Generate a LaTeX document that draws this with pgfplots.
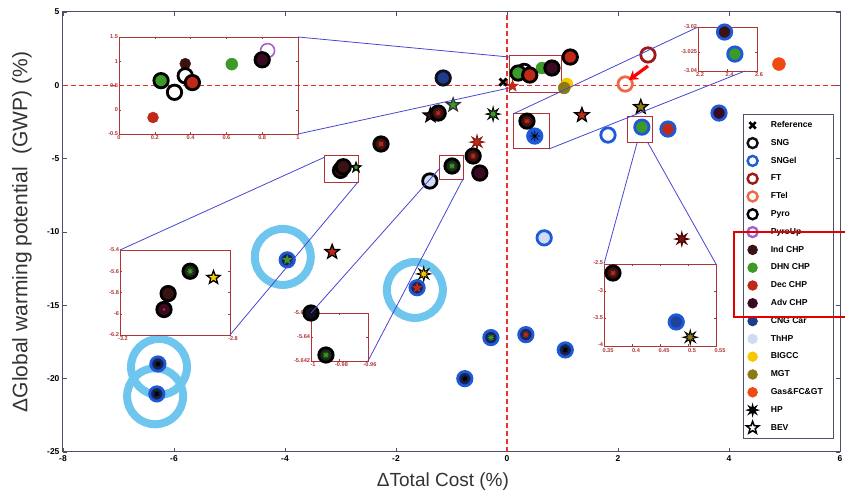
\documentclass[border=0pt]{standalone}
\usepackage{fontspec}
\setmainfont{Liberation Sans}
\usepackage{pgfplots}
\pgfplotsset{compat=1.18}
\usetikzlibrary{arrows.meta}

\definecolor{sngc}{HTML}{10101C}
\definecolor{sngelc}{HTML}{1E5AD8}
\definecolor{ftc}{HTML}{A01818}
\definecolor{ftelc}{HTML}{F06848}
\definecolor{pyroupc}{HTML}{A860C8}
\definecolor{indc}{HTML}{3A1212}
\definecolor{dhnc}{HTML}{3C9A28}
\definecolor{decc}{HTML}{C02818}
\definecolor{advc}{HTML}{3A0A22}
\definecolor{cngc}{HTML}{1F3C8C}
\definecolor{thhpc}{HTML}{D0DCF4}
\definecolor{bigccc}{HTML}{F5C800}
\definecolor{mgtc}{HTML}{8C7A14}
\definecolor{gasc}{HTML}{F04A14}
\definecolor{hlc}{HTML}{6EC6EE}
\definecolor{zredc}{HTML}{B03434}
\definecolor{lnc}{HTML}{4646D2}
\definecolor{axc}{HTML}{4A5268}
\definecolor{refc}{HTML}{E83030}
\definecolor{dgc}{HTML}{1A2A18}
\definecolor{navyf}{HTML}{1A2450}

\pgfdeclareplotmark{fstar}{%
  \pgfpathmoveto{\pgfpointpolar{90}{\pgfplotmarksize}}%
  \pgfpathlineto{\pgfpointpolar{126}{0.42*\pgfplotmarksize}}%
  \pgfpathlineto{\pgfpointpolar{162}{\pgfplotmarksize}}%
  \pgfpathlineto{\pgfpointpolar{198}{0.42*\pgfplotmarksize}}%
  \pgfpathlineto{\pgfpointpolar{234}{\pgfplotmarksize}}%
  \pgfpathlineto{\pgfpointpolar{270}{0.42*\pgfplotmarksize}}%
  \pgfpathlineto{\pgfpointpolar{306}{\pgfplotmarksize}}%
  \pgfpathlineto{\pgfpointpolar{342}{0.42*\pgfplotmarksize}}%
  \pgfpathlineto{\pgfpointpolar{18}{\pgfplotmarksize}}%
  \pgfpathlineto{\pgfpointpolar{54}{0.42*\pgfplotmarksize}}%
  \pgfpathclose
  \pgfusepathqfillstroke
}
\pgfdeclareplotmark{sp8}{%
  \pgfpathmoveto{\pgfpointpolar{0}{\pgfplotmarksize}}%
  \pgfpathlineto{\pgfpointpolar{22.5}{0.4*\pgfplotmarksize}}%
  \pgfpathlineto{\pgfpointpolar{45}{\pgfplotmarksize}}%
  \pgfpathlineto{\pgfpointpolar{67.5}{0.4*\pgfplotmarksize}}%
  \pgfpathlineto{\pgfpointpolar{90}{\pgfplotmarksize}}%
  \pgfpathlineto{\pgfpointpolar{112.5}{0.4*\pgfplotmarksize}}%
  \pgfpathlineto{\pgfpointpolar{135}{\pgfplotmarksize}}%
  \pgfpathlineto{\pgfpointpolar{157.5}{0.4*\pgfplotmarksize}}%
  \pgfpathlineto{\pgfpointpolar{180}{\pgfplotmarksize}}%
  \pgfpathlineto{\pgfpointpolar{202.5}{0.4*\pgfplotmarksize}}%
  \pgfpathlineto{\pgfpointpolar{225}{\pgfplotmarksize}}%
  \pgfpathlineto{\pgfpointpolar{247.5}{0.4*\pgfplotmarksize}}%
  \pgfpathlineto{\pgfpointpolar{270}{\pgfplotmarksize}}%
  \pgfpathlineto{\pgfpointpolar{292.5}{0.4*\pgfplotmarksize}}%
  \pgfpathlineto{\pgfpointpolar{315}{\pgfplotmarksize}}%
  \pgfpathlineto{\pgfpointpolar{337.5}{0.4*\pgfplotmarksize}}%
  \pgfpathclose
  \pgfusepathqfillstroke
}
\pgfdeclareplotmark{ast8}{%
  \pgfpathmoveto{\pgfpointpolar{0}{\pgfplotmarksize}}\pgfpathlineto{\pgfpointpolar{180}{\pgfplotmarksize}}%
  \pgfpathmoveto{\pgfpointpolar{90}{\pgfplotmarksize}}\pgfpathlineto{\pgfpointpolar{270}{\pgfplotmarksize}}%
  \pgfpathmoveto{\pgfpointpolar{45}{\pgfplotmarksize}}\pgfpathlineto{\pgfpointpolar{225}{\pgfplotmarksize}}%
  \pgfpathmoveto{\pgfpointpolar{135}{\pgfplotmarksize}}\pgfpathlineto{\pgfpointpolar{315}{\pgfplotmarksize}}%
  \pgfusepathqstroke
}

\pgfplotsset{
  rf/.style n args={2}{only marks, forget plot, mark=*, mark size=7.2pt, mark options={draw=#1, fill=#2, line width=2.8pt, solid}},
  ro/.style={only marks, forget plot, mark=o, mark size=7.2pt, mark options={draw=#1, line width=2.8pt, solid}},
  dt/.style n args={2}{only marks, forget plot, mark=*, mark size=#2, mark options={draw=#1, fill=#1, solid}},
  st/.style n args={2}{only marks, forget plot, mark=fstar, mark size=7.5pt, mark options={draw=#1, fill=#2, line width=1.3pt, solid}},
  hp/.style n args={2}{only marks, forget plot, mark=sp8, mark size=7pt, mark options={draw=#1, fill=#2, line width=0.9pt, solid}},
  cd/.style={only marks, forget plot, mark=ast8, mark size=3.2pt, mark options={draw=#1, line width=0.8pt, solid}},
  inset/.style={scale only axis, anchor=south west, clip=false,
    axis line style={draw=zredc, line width=0.9pt},
    every tick/.style={draw=zredc, line width=0.4pt},
    tick align=inside, major tick length=2pt,
    /pgf/number format/assume math mode=true,
    ticklabel style={font=\fontsize{5.6}{6}\selectfont\bfseries, text=zredc, inner sep=0.8pt},
    xticklabel style={yshift=-0.5pt}},
}
\newcommand\lgx[1]{\makebox[68pt][l]{\hspace{10pt}#1}}

\begin{document}
\begin{tikzpicture}
\useasboundingbox (-63pt,-45pt) rectangle (782pt,452pt);
\begin{axis}[
  at={(0pt,0pt)}, anchor=south west,
  scale only axis, width=777pt, height=440pt,
  xmin=-8, xmax=6, ymin=-25, ymax=5,
  xtick={-8,-6,-4,-2,0,2,4,6}, ytick={-25,-20,-15,-10,-5,0,5},
  tick align=inside, major tick length=4pt,
  axis line style={draw=axc, line width=1pt},
  every tick/.style={draw=axc, line width=0.8pt},
  /pgf/number format/assume math mode=true,
  ticklabel style={font=\fontsize{8.5}{9}\selectfont\bfseries},
  xlabel={ΔTotal Cost (\%)},
  ylabel={ΔGlobal warming potential\hspace{0.6em}(GWP) (\%)},
  xlabel style={at={(axis description cs:0.489,-0.068)}, anchor=center, font=\fontsize{19}{21}\selectfont, text=black!80},
  ylabel style={at={(axis description cs:-0.053,0.5)}, anchor=center, font=\fontsize{21}{23}\selectfont, text=black!80},
  clip=false,
  legend cell align=left,
  legend style={at={(axis description cs:0.8752,0.7682)}, anchor=north west, draw=axc, line width=0.8pt, fill=white,
    font=\fontsize{8.6}{9}\selectfont\bfseries, inner xsep=3pt, inner ysep=2pt,
    nodes={inner sep=2pt, minimum height=17.8pt}, row sep=0pt},
]
% legend
\addlegendimage{only marks, mark=x, mark size=4.5pt, mark options={line width=2.6pt, draw=black}}
\addlegendentry{\lgx{Reference}}
\addlegendimage{only marks, mark=o, mark size=5pt, mark options={line width=2.4pt, draw=sngc}}
\addlegendentry{\lgx{SNG}}
\addlegendimage{only marks, mark=o, mark size=5pt, mark options={line width=2.4pt, draw=sngelc}}
\addlegendentry{\lgx{SNGel}}
\addlegendimage{only marks, mark=o, mark size=5pt, mark options={line width=2.4pt, draw=ftc}}
\addlegendentry{\lgx{FT}}
\addlegendimage{only marks, mark=o, mark size=5pt, mark options={line width=2.4pt, draw=ftelc}}
\addlegendentry{\lgx{FTel}}
\addlegendimage{only marks, mark=o, mark size=5pt, mark options={line width=2.4pt, draw=black}}
\addlegendentry{\lgx{Pyro}}
\addlegendimage{only marks, mark=o, mark size=5pt, mark options={line width=2.4pt, draw=pyroupc}}
\addlegendentry{\lgx{PyroUp}}
\addlegendimage{only marks, mark=*, mark size=4.8pt, mark options={draw=indc, fill=indc}}
\addlegendentry{\lgx{Ind CHP}}
\addlegendimage{only marks, mark=*, mark size=4.8pt, mark options={draw=dhnc, fill=dhnc}}
\addlegendentry{\lgx{DHN CHP}}
\addlegendimage{only marks, mark=*, mark size=4.8pt, mark options={draw=decc, fill=decc}}
\addlegendentry{\lgx{Dec CHP}}
\addlegendimage{only marks, mark=*, mark size=4.8pt, mark options={draw=advc, fill=advc}}
\addlegendentry{\lgx{Adv CHP}}
\addlegendimage{only marks, mark=*, mark size=4.8pt, mark options={draw=cngc, fill=cngc}}
\addlegendentry{\lgx{CNG Car}}
\addlegendimage{only marks, mark=*, mark size=4.8pt, mark options={draw=thhpc, fill=thhpc}}
\addlegendentry{\lgx{ThHP}}
\addlegendimage{only marks, mark=*, mark size=4.8pt, mark options={draw=bigccc, fill=bigccc}}
\addlegendentry{\lgx{BIGCC}}
\addlegendimage{only marks, mark=*, mark size=4.8pt, mark options={draw=mgtc, fill=mgtc}}
\addlegendentry{\lgx{MGT}}
\addlegendimage{only marks, mark=*, mark size=4.8pt, mark options={draw=gasc, fill=gasc}}
\addlegendentry{\lgx{Gas\&FC\&GT}}
\addlegendimage{only marks, mark=sp8, mark size=6pt, mark options={draw=black, fill=black}}
\addlegendentry{\lgx{HP}}
\addlegendimage{only marks, mark=fstar, mark size=6.5pt, mark options={draw=black, fill=white, line width=1.5pt}}
\addlegendentry{\lgx{BEV}}

% reference lines
\draw[refc, line width=1.2pt, dash pattern=on 5pt off 3pt] (axis cs:0,-25) -- (axis cs:0,5);
\draw[refc, line width=1.2pt, dash pattern=on 5pt off 3pt] (axis cs:-8,0) -- (axis cs:6,0);

% zoom rectangles
\draw[zredc, line width=1pt] (axis cs:0.04,-0.46) rectangle (axis cs:0.99,2.0);
\draw[zredc, line width=1pt] (axis cs:-3.28,-6.6) rectangle (axis cs:-2.68,-4.76);
\draw[zredc, line width=1pt] (axis cs:-1.21,-6.39) rectangle (axis cs:-0.79,-4.76);
\draw[zredc, line width=1pt] (axis cs:0.11,-4.34) rectangle (axis cs:0.76,-1.89);
\draw[zredc, line width=1pt] (axis cs:2.18,-3.93) rectangle (axis cs:2.63,-2.1);

% cluster near origin
\addplot[st={decc}{decc}, mark size=5pt] coordinates {(0.1,-0.05)};
\addplot[dt={bigccc}{6pt}] coordinates {(1.08,0.09)};
\addplot[dt={mgtc}{6pt}] coordinates {(1.03,-0.18)};
\addplot[ro=black] coordinates {(0.31,0.95)};
\addplot[rf={black}{dhnc}] coordinates {(0.2,0.84)};
\addplot[dt={dhnc}{6pt}] coordinates {(0.63,1.18)};
\addplot[rf={black}{decc}] coordinates {(0.41,0.7)};
\addplot[rf={black}{advc}] coordinates {(0.81,1.18)};
\addplot[rf={black}{decc}] coordinates {(1.14,1.93)};
\addplot[only marks, forget plot, mark=x, mark size=5pt, mark options={draw=black, line width=2.8pt}] coordinates {(-0.07,0.22)};

% other points
\addplot[rf={sngc}{cngc}] coordinates {(-1.15,0.5)};
\addplot[st={black}{indc}] coordinates {(-1.38,-2.05)};
\addplot[rf={black}{indc}] coordinates {(-1.24,-1.89)};
\addplot[cd=decc] coordinates {(-1.24,-1.89)};
\addplot[st={black!80}{dhnc}, mark size=7pt] coordinates {(-0.97,-1.34)};
\addplot[hp={black}{dhnc}] coordinates {(-0.25,-1.96)};
\addplot[rf={black}{indc}] coordinates {(-2.27,-4.0)};
\addplot[cd=decc] coordinates {(-2.27,-4.0)};
\addplot[rf={black}{indc}] coordinates {(-3.0,-5.8) (-2.95,-5.55)};
\addplot[st={black}{dhnc}, mark size=5pt] coordinates {(-2.72,-5.6)};
\addplot[rf={black}{thhpc}] coordinates {(-1.39,-6.52)};
\addplot[rf={black}{dgc}] coordinates {(-0.99,-5.5)};
\addplot[cd=dhnc] coordinates {(-0.99,-5.5)};
\addplot[hp={decc!70!black}{decc}] coordinates {(-0.54,-3.87)};
\addplot[rf={black}{indc}] coordinates {(-0.61,-4.82)};
\addplot[cd=decc] coordinates {(-0.61,-4.82)};
\addplot[rf={black}{advc}] coordinates {(-0.49,-5.98)};
\addplot[rf={sngelc}{sngelc}] coordinates {(0.5,-3.46)};
\addplot[cd=black, mark size=5pt] coordinates {(0.5,-3.46)};
\addplot[rf={black}{indc}] coordinates {(0.36,-2.44)};
\addplot[cd=decc] coordinates {(0.36,-2.44)};
\addplot[st={black}{decc}] coordinates {(1.35,-2.03)};
\addplot[ro=sngelc] coordinates {(1.82,-3.39)};
\addplot[st={black}{mgtc}] coordinates {(2.41,-1.48)};
\addplot[rf={sngelc}{dhnc}] coordinates {(2.43,-2.85)};
\addplot[rf={sngelc}{decc}] coordinates {(2.9,-2.98)};
\addplot[rf={sngelc}{advc}] coordinates {(3.82,-1.89)};
\addplot[ro=ftc] coordinates {(2.54,2.07)};
\addplot[ro=ftelc] coordinates {(2.13,0.09)};
\addplot[dt={gasc}{6.5pt}] coordinates {(4.9,1.45)};
\addplot[rf={sngelc}{thhpc}] coordinates {(0.67,-10.4)};
\addplot[hp={black!70!red}{decc!60!black}] coordinates {(3.15,-10.48)};
\addplot[rf={sngelc}{navyf}] coordinates {(-3.96,-11.9)};
\addplot[st={dhnc}{dhnc}, mark size=3.5pt] coordinates {(-3.96,-11.9)};
\addplot[st={black}{decc}] coordinates {(-3.15,-11.36)};
\addplot[rf={sngelc}{navyf}] coordinates {(-1.62,-13.8)};
\addplot[st={decc}{decc}, mark size=3.8pt] coordinates {(-1.62,-13.8)};
\addplot[hp={black}{bigccc}] coordinates {(-1.5,-12.86)};
\addplot[rf={sngelc}{navyf}] coordinates {(-0.29,-17.2)};
\addplot[cd=dhnc] coordinates {(-0.29,-17.2)};
\addplot[rf={sngelc}{navyf}] coordinates {(0.34,-17.0)};
\addplot[cd=decc] coordinates {(0.34,-17.0)};
\addplot[rf={sngelc}{navyf}] coordinates {(1.05,-18.04) (-0.76,-20.0) (-6.29,-19.0) (-6.31,-21.04)};
\addplot[cd=black] coordinates {(1.05,-18.04) (-0.76,-20.0) (-6.29,-19.0) (-6.31,-21.04)};

% highlight rings
\draw[hlc, line width=8pt] (axis cs:-4.04,-11.7) circle[radius=28pt];
\draw[hlc, line width=8pt] (axis cs:-1.66,-13.95) circle[radius=28pt];
\draw[hlc, line width=8pt] (axis cs:-6.27,-19.2) circle[radius=28pt];
\draw[hlc, line width=8pt] (axis cs:-6.34,-21.2) circle[radius=28pt];
\end{axis}

% inset A
\begin{axis}[inset, at={(56pt,318pt)}, width=179pt, height=97pt,
  xmin=0, xmax=1, ymin=-0.5, ymax=1.5,
  xtick={0,0.2,0.4,0.6,0.8,1}, xticklabels={0,0.2,0.4,0.6,0.8,1},
  ytick={-0.5,0,0.5,1,1.5}, yticklabels={-0.5,0,0.5,1,1.5}]
\addplot[only marks, forget plot, mark=o, mark size=7pt, mark options={draw=pyroupc, line width=1.6pt}] coordinates {(0.83,1.22)};
\addplot[rf={black}{advc}] coordinates {(0.80,1.03)};
\addplot[dt={dhnc}{6pt}] coordinates {(0.63,0.94)};
\addplot[dt={indc}{5.5pt}] coordinates {(0.37,0.95)};
\addplot[ro=black] coordinates {(0.31,0.36) (0.37,0.7)};
\addplot[rf={black}{dhnc}] coordinates {(0.235,0.6)};
\addplot[rf={black}{decc}] coordinates {(0.41,0.56)};
\addplot[dt={decc}{5.5pt}] coordinates {(0.19,-0.16)};
\end{axis}

% inset B
\begin{axis}[inset, at={(57pt,117pt)}, width=110pt, height=85pt,
  xmin=-3.2, xmax=-2.8, ymin=-6.2, ymax=-5.4,
  xtick={-3.2,-2.8}, xticklabels={-3.2,-2.8},
  ytick={-6.2,-6,-5.8,-5.6,-5.4}, yticklabels={-6.2,-6,-5.8,-5.6,-5.4},
  xticklabel style={xshift=3pt}]
\addplot[rf={black}{indc}] coordinates {(-3.025,-5.81)};
\addplot[rf={black}{advc}] coordinates {(-3.04,-5.96)};
\addplot[dt={decc}{1.2pt}] coordinates {(-3.04,-5.96)};
\addplot[rf={black}{dgc}] coordinates {(-2.945,-5.6)};
\addplot[cd=dhnc] coordinates {(-2.945,-5.6)};
\addplot[st={black}{bigccc}, mark size=7pt] coordinates {(-2.86,-5.66)};
\end{axis}

% inset C (values shifted: x=-1+0.01*X, y=-5.642+0.001*Y)
\begin{axis}[inset, at={(248pt,91pt)}, width=57pt, height=48pt,
  xmin=0, xmax=4, ymin=0, ymax=4,
  xtick={0,2,4}, xticklabels={-1,-0.98,-0.96},
  ytick={0,2,4}, yticklabels={-5.642,-5.64,-5.638},
  xticklabel style={xshift=2pt}]
\addplot[rf={black}{sngc}] coordinates {(0,4)};
\addplot[rf={black}{dgc}] coordinates {(1.05,0.5)};
\addplot[cd=dhnc] coordinates {(1.05,0.5)};
\end{axis}

% inset D
\begin{axis}[inset, at={(541pt,106pt)}, width=112pt, height=82pt,
  xmin=0.35, xmax=0.55, ymin=-4, ymax=-2.5,
  xtick={0.35,0.4,0.45,0.5,0.55}, xticklabels={0.35,0.4,0.45,0.5,0.55},
  ytick={-4,-3.5,-3,-2.5}, yticklabels={-4,-3.5,-3,-2.5},
  xticklabel style={xshift=4pt, yshift=-1pt},
  yticklabel style={yshift=1pt}]
\addplot[rf={black}{indc}] coordinates {(0.366,-2.665)};
\addplot[cd=decc] coordinates {(0.366,-2.665)};
\addplot[rf={sngelc}{cngc!80!sngelc}] coordinates {(0.479,-3.56)};
\addplot[hp={black}{mgtc}] coordinates {(0.504,-3.84)};
\end{axis}

% inset E (y shifted: y=-3.04+0.001*Y)
\begin{axis}[inset, at={(635pt,381pt)}, width=59pt, height=44pt,
  xmin=2.2, xmax=2.6, ymin=0, ymax=20,
  xtick={2.2,2.4,2.6}, xticklabels={2.2,2.4,2.6},
  ytick={0,8.6,20}, yticklabels={-3.04,-3.025,-3.02},
  xticklabel style={xshift=2pt}]
\addplot[rf={sngelc}{indc}] coordinates {(2.38,17.7)};
\addplot[rf={sngelc}{dhnc}] coordinates {(2.45,7.7)};
\end{axis}

% connector lines
\begin{scope}[lnc, line width=0.8pt]
\draw (235pt,415pt) -- (446pt,395pt);
\draw (235pt,318pt) -- (446pt,364pt);
\draw (57pt,202pt) -- (262pt,295pt);
\draw (167pt,117pt) -- (295pt,270pt);
\draw (248pt,139pt) -- (377pt,284pt);
\draw (305pt,91pt) -- (400pt,273pt);
\draw (574pt,309pt) -- (541pt,188pt);
\draw (585pt,309pt) -- (653pt,188pt);
\draw (450pt,338pt) -- (635pt,425pt);
\draw (486pt,303pt) -- (682pt,381pt);
\end{scope}

% red arrow and legend highlight
\draw[red, line width=3.2pt, -{Stealth[length=9pt,width=11pt]}] (585pt,386pt) -- (566pt,372pt);
\draw[red!90!black, line width=2.4pt] (671pt,220pt) rectangle (784pt,135pt);
\end{tikzpicture}
\end{document}
